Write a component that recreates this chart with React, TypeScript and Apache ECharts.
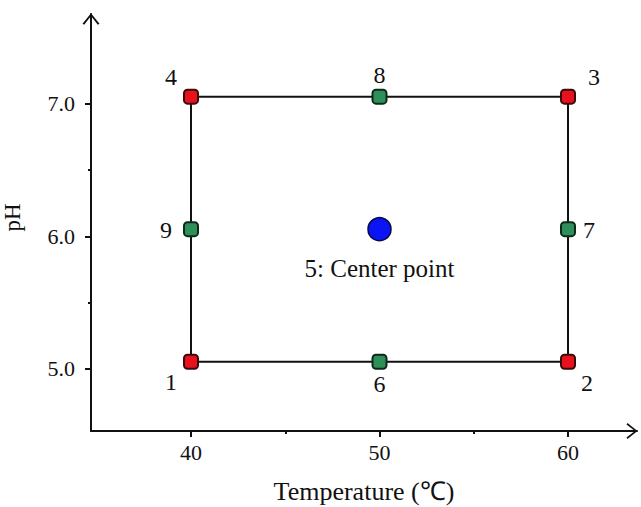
import React, { useEffect, useRef } from "react";
import * as echarts from "echarts";

const runLabels = ["1", "2", "3", "4", "5", "6", "7", "8", "9"];
const temperature = [40, 60, 60, 40, 50, 50, 60, 50, 40];
const pH = [5.055, 5.055, 7.055, 7.055, 6.055, 5.055, 6.055, 7.055, 6.055];
const runType = ["corner", "corner", "corner", "corner", "center", "axial", "axial", "axial", "axial"];
// order in which the outline of the design region is traced
const outlineOrder = ["4", "8", "3", "7", "2", "6", "1", "9", "4"];

const xTickLabels = [40, 50, 60];
const xMinorTicks = [45, 55];
const yTickLabels = [5, 6, 7];
const yMinorTicks = [5.5, 6.5];

const xName = "Temperature (\u2103)";
const yName = "pH";
const centerName = "5: Center point";

const FONT = "Liberation Serif";

const labelOffsets: Record<string, [number, number]> = {
  "1": [-20, 20],
  "2": [19, 21],
  "3": [26, -20],
  "4": [-20, -20],
  "5": [0, 39],
  "6": [0, 22],
  "7": [21, 1],
  "8": [0, -22],
  "9": [-25, 1],
};

const chevron = "path://M0,10 L8,0 L16,10 L14.4,11 L8,2.6 L1.6,11 Z";

export default function App() {
  const ref = useRef<HTMLDivElement>(null);
  useEffect(() => {
    if (!ref.current) return;
    const chart = echarts.init(ref.current, undefined, { renderer: "svg" });

    const idx = (l: string) => runLabels.indexOf(l);
    const outline = outlineOrder.map((l) => [temperature[idx(l)], pH[idx(l)]]);

    const pointsOf = (type: string) =>
      runLabels
        .map((l, i) => ({ l, i }))
        .filter(({ i }) => runType[i] === type)
        .map(({ l, i }) => ({
          value: [temperature[i], pH[i]],
          name: l,
          label: { offset: labelOffsets[l] },
        }));

    const digitLabel = {
      show: true,
      position: "inside",
      formatter: (p: any) => p.name,
      fontFamily: FONT,
      fontSize: 24,
      color: "#111",
    };

    const xMin = 34.695;
    const xMax = 63.66;
    const yMin = 4.532;
    const yMax = 7.679;

    chart.setOption({
      animation: false,
      backgroundColor: "#fff",
      grid: { left: 91, top: 14, right: 4, bottom: 76, containLabel: false, outerBoundsMode: "none" },
      xAxis: [
        {
          type: "value",
          min: xMin,
          max: xMax,
          name: xName,
          nameLocation: "middle",
          nameGap: 47,
          nameTextStyle: { fontFamily: FONT, fontSize: 26, color: "#111" },
          axisLine: {
            onZero: false,
            symbol: ["none", chevron],
            symbolSize: [16, 11],
            symbolOffset: [0, -5],
            lineStyle: { color: "#111", width: 2 },
          },
          axisTick: { show: true, customValues: xTickLabels, length: 6, lineStyle: { color: "#111", width: 2 } },
          axisLabel: {
            customValues: xTickLabels,
            margin: 10,
            fontFamily: FONT,
            fontSize: 22,
            color: "#111",
          },
          splitLine: { show: false },
        },
        {
          type: "value",
          min: xMin,
          max: xMax,
          position: "bottom",
          axisLine: { show: false, onZero: false },
          axisTick: { show: true, customValues: xMinorTicks, length: 3, lineStyle: { color: "#111", width: 2 } },
          axisLabel: { show: false },
          splitLine: { show: false },
        },
      ],
      yAxis: [
        {
          type: "value",
          min: yMin,
          max: yMax,
          name: yName,
          nameLocation: "middle",
          nameGap: 67,
          nameTextStyle: { fontFamily: FONT, fontSize: 23, color: "#111", padding: [0, 0, 0, 10] },
          axisLine: {
            onZero: false,
            symbol: ["none", chevron],
            symbolSize: [17, 12],
            symbolOffset: [0, -5],
            lineStyle: { color: "#111", width: 2 },
          },
          axisTick: { show: true, customValues: yTickLabels, length: 6, lineStyle: { color: "#111", width: 2 } },
          axisLabel: {
            customValues: yTickLabels,
            formatter: (v: number) => v.toFixed(1),
            margin: 16,
            fontFamily: FONT,
            fontSize: 22,
            color: "#111",
          },
          splitLine: { show: false },
        },
        {
          type: "value",
          min: yMin,
          max: yMax,
          position: "left",
          axisLine: { show: false, onZero: false },
          axisTick: { show: true, customValues: yMinorTicks, length: 3, lineStyle: { color: "#111", width: 2 } },
          axisLabel: { show: false },
          splitLine: { show: false },
        },
      ],
      series: [
        {
          type: "line",
          data: outline,
          showSymbol: false,
          symbol: "none",
          lineStyle: { color: "#111", width: 2 },
          silent: true,
          z: 2,
        },
        {
          type: "scatter",
          data: pointsOf("corner"),
          symbol: "roundRect",
          symbolSize: 14,
          itemStyle: { color: "#e8121e", borderColor: "#3a0a0a", borderWidth: 2, opacity: 1 },
          label: digitLabel,
          z: 3,
        },
        {
          type: "scatter",
          data: pointsOf("axial"),
          symbol: "roundRect",
          symbolSize: 14,
          itemStyle: { color: "#2f8f5a", borderColor: "#0d2a18", borderWidth: 2, opacity: 1 },
          label: digitLabel,
          z: 3,
        },
        {
          type: "scatter",
          data: pointsOf("center"),
          symbol: "circle",
          symbolSize: 23,
          itemStyle: { color: "#0a14f5", borderColor: "#0a0a40", borderWidth: 1.5, opacity: 1 },
          label: {
            show: true,
            position: "inside",
            formatter: () => centerName,
            fontFamily: FONT,
            fontSize: 25,
            color: "#111",
          },
          z: 3,
        },
      ],
    });
    return () => chart.dispose();
  }, []);
  return (
    <div
      ref={ref}
      style={{ position: "fixed", left: 0, top: 0, width: 641, height: 507, background: "#fff" }}
    />
  );
}
